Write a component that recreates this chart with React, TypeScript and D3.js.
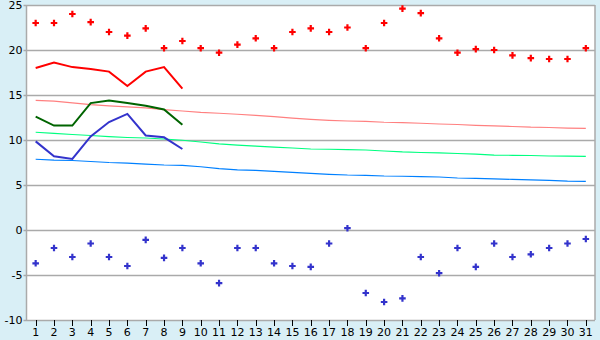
import React from "react";
import * as d3 from "d3";

const days = d3.range(1, 32).map(String);
const yTicks = [-10, -5, 0, 5, 10, 15, 20, 25];

const maxPoints = [23.0, 23.0, 24.0, 23.1, 22.0, 21.6, 22.4, 20.2, 21.0, 20.2, 19.7, 20.6, 21.3, 20.2, 22.0, 22.4, 22.0, 22.5, 20.2, 23.0, 24.6, 24.1, 21.3, 19.7, 20.1, 20.0, 19.4, 19.1, 19.0, 19.0, 20.2];
const minPoints = [-3.7, -2.0, -3.0, -1.5, -3.0, -4.0, -1.1, -3.1, -2.0, -3.7, -5.9, -2.0, -2.0, -3.7, -4.0, -4.1, -1.5, 0.2, -7.0, -8.0, -7.6, -3.0, -4.8, -2.0, -4.1, -1.5, -3.0, -2.7, -2.0, -1.5, -1.0];

const maxLine = [18.0, 18.6, 18.1, 17.9, 17.6, 16.0, 17.6, 18.1, 15.7];
const meanLine = [12.6, 11.6, 11.6, 14.1, 14.4, 14.1, 13.8, 13.4, 11.7];
const minLine = [9.85, 8.2, 7.9, 10.4, 12.0, 12.9, 10.5, 10.3, 9.0];

const normalMax = [14.41, 14.33, 14.13, 13.94, 13.8, 13.69, 13.56, 13.38, 13.22, 13.06, 12.97, 12.86, 12.74, 12.59, 12.44, 12.3, 12.19, 12.11, 12.06, 11.97, 11.94, 11.86, 11.78, 11.72, 11.63, 11.56, 11.5, 11.42, 11.39, 11.33, 11.3];
const normalMean = [10.86, 10.74, 10.61, 10.5, 10.37, 10.28, 10.22, 10.11, 9.97, 9.78, 9.56, 9.44, 9.33, 9.2, 9.11, 9.0, 8.97, 8.94, 8.89, 8.78, 8.67, 8.61, 8.56, 8.5, 8.42, 8.33, 8.3, 8.28, 8.22, 8.2, 8.19];
const normalMin = [7.86, 7.76, 7.72, 7.61, 7.5, 7.44, 7.33, 7.22, 7.17, 7.03, 6.83, 6.69, 6.63, 6.52, 6.41, 6.3, 6.19, 6.11, 6.08, 6.0, 5.97, 5.94, 5.89, 5.78, 5.74, 5.67, 5.63, 5.56, 5.52, 5.44, 5.41];

const W = 600, H = 340;
const L = 26.5, R = 595, T = 5, B = 320;

export default function App() {
  const x = d3.scaleBand().domain(days).range([L, R]);
  const cx = (i: number) => (x(days[i]) as number) + x.bandwidth() / 2;
  const y = d3.scaleLinear().domain([-10, 25]).range([B, T]);
  const line = d3.line<number>().x((_, i) => cx(i)).y((d) => y(d));
  const cross = d3.symbol().type(d3.symbolCross).size(24)() as string;
  const font = "'DejaVu Sans', Verdana, sans-serif";

  return (
    <svg width={W} height={H} style={{ position: "fixed", left: 0, top: 0 }} fontFamily={font}>
      <rect width={W} height={H} fill="#D9EFF6" />
      <rect x={L} y={T} width={R - L} height={B - T} fill="#FFFFFF" />
      {yTicks.map((t) => (
        <g key={t}>
          <line x1={L - 3} x2={R} y1={Math.round(y(t)) + 0.5} y2={Math.round(y(t)) + 0.5} stroke="#AAAAAA" strokeWidth={1.5} />
          <text x={L - 4} y={y(t)} dy="0.35em" textAnchor="end" fontSize={11} fill="#000">{t}</text>
        </g>
      ))}
      <line x1={R} x2={R} y1={T} y2={B} stroke="#AAAAAA" strokeWidth={1.5} />
      <line x1={L} x2={L} y1={T} y2={B} stroke="#AAAAAA" strokeWidth={1.5} />
      {days.map((d, i) => (
        <g key={d}>
          <line x1={Math.round(cx(i)) + 0.5} x2={Math.round(cx(i)) + 0.5} y1={B} y2={B + 6} stroke="#000" />
          <text x={cx(i)} y={B + 16} textAnchor="middle" fontSize={11} fill="#000">{d}</text>
        </g>
      ))}
      <path d={line(normalMax) as string} fill="none" stroke="#FF8080" strokeWidth={1.2} />
      <path d={line(normalMean) as string} fill="none" stroke="#00FF80" strokeWidth={1.2} />
      <path d={line(normalMin) as string} fill="none" stroke="#0080FF" strokeWidth={1.2} />
      <path d={line(maxLine) as string} fill="none" stroke="#FF0000" strokeWidth={2} />
      <path d={line(meanLine) as string} fill="none" stroke="#006400" strokeWidth={2} />
      <path d={line(minLine) as string} fill="none" stroke="#3333CC" strokeWidth={2} />
      {maxPoints.map((v, i) => (
        <path key={"mx" + i} d={cross} transform={`translate(${cx(i)},${y(v)})`} fill="#FF0000" />
      ))}
      {minPoints.map((v, i) => (
        <path key={"mn" + i} d={cross} transform={`translate(${cx(i)},${y(v)})`} fill="#3333CC" />
      ))}
    </svg>
  );
}
